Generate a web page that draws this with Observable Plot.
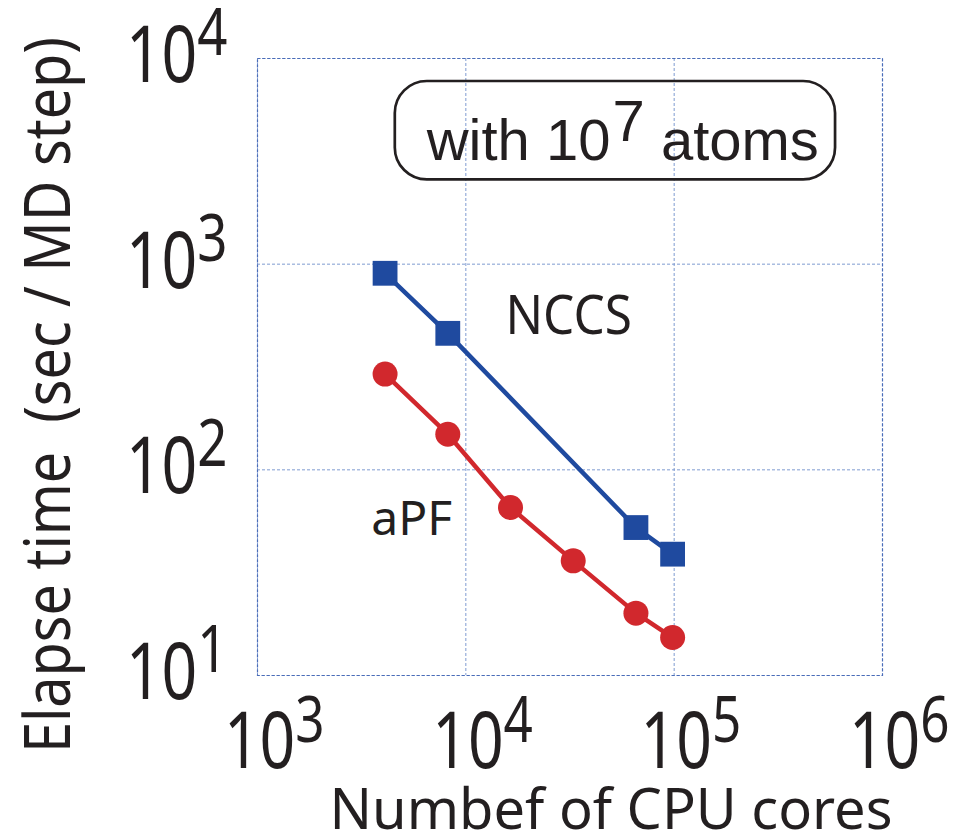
<!DOCTYPE html>
<html><head><meta charset="utf-8">
<script src="https://cdn.jsdelivr.net/npm/d3@7"></script>
<script src="https://cdn.jsdelivr.net/npm/@observablehq/plot@0.6"></script>
<style>body{margin:0;background:#fff}</style>
</head><body><div id="chart"></div>
<script>
// ---- data ----
const nccsCores = [4096, 8192, 65536, 98304];
const nccsTime  = [903, 461, 52.4, 38.9];
const apfCores  = [4096, 8192, 16384, 32768, 65536, 98304];
const apfTime   = [292, 149, 65.6, 36.1, 20.1, 15.3];
const seriesNames = ["NCCS", "aPF"];
const xTicks = [1e3, 1e4, 1e5, 1e6];
const yTicks = [1e1, 1e2, 1e3, 1e4];
const xLabel = "Numbef of CPU cores";
const yLabel = "Elapse time  (sec / MD step)";
const boxLabel = "with 10^7 atoms";

const blue = "#1f4a9f", red = "#d1282d", ink = "#231f20";
const nccs = nccsCores.map((c, i) => ({cores: c, time: nccsTime[i]}));
const apf = apfCores.map((c, i) => ({cores: c, time: apfTime[i]}));

const plot = Plot.plot({
  width: 955, height: 834,
  marginLeft: 257, marginRight: 73, marginTop: 58, marginBottom: 159,
  style: {fontFamily: "Noto Sans", background: "white", overflow: "visible", color: ink},
  x: {type: "log", domain: [1e3, 1e6]},
  y: {type: "log", domain: [1e1, 1e4]},
  marks: [
    Plot.gridX(xTicks, {stroke: "#7f9bd1", strokeOpacity: 1, strokeWidth: 1, strokeDasharray: "3,2"}),
    Plot.gridY(yTicks, {stroke: "#7f9bd1", strokeOpacity: 1, strokeWidth: 1, strokeDasharray: "3,2"}),
    Plot.frame({stroke: "#4a6cb8", strokeWidth: 1.2, strokeDasharray: "3,2"}),
    Plot.axisX(xTicks, {tickSize: 0, tickPadding: 37, fontSize: 78, fill: ink,
      tickFormat: d => String(Math.round(Math.log10(d))), label: null}),
    Plot.axisY(yTicks, {tickSize: 0, tickPadding: 30, fontSize: 78, fill: ink,
      tickFormat: d => String(Math.round(Math.log10(d))), label: null}),
    Plot.line(nccs, {x: "cores", y: "time", stroke: blue, strokeWidth: 4.5}),
    Plot.line(apf, {x: "cores", y: "time", stroke: red, strokeWidth: 4.5}),
    Plot.dot(nccs, {x: "cores", y: "time", symbol: "square", r: 14, fill: blue}),
    Plot.dot(apf, {x: "cores", y: "time", symbol: "circle", r: 12.5, fill: red}),
    Plot.text([seriesNames[0]], {x: 15500, y: 557, text: d => d, textAnchor: "start", lineAnchor: "middle",
      fontSize: 55, fill: ink}),
    Plot.text([seriesNames[1]], {x: 3520, y: 57.2, text: d => d, textAnchor: "start", lineAnchor: "middle",
      fontSize: 48, fill: ink}),
    Plot.rect([{x1: 4586, x2: 595200, y1: 7730, y2: 2569}], {x1: "x1", x2: "x2", y1: "y1", y2: "y2",
      rx: 32, fill: "none", stroke: ink, strokeWidth: 2.7}),
    Plot.text([boxLabel], {x: 6490, y: 3955, text: d => d, textAnchor: "start", lineAnchor: "middle",
      fontSize: 58, fontFamily: "Liberation Sans", fill: ink}),
    Plot.text([xLabel], {frameAnchor: "bottom-left", dx: 72, dy: 135.5, text: d => d, textAnchor: "start",
      lineAnchor: "middle", fontSize: 56, fill: ink}),
    Plot.text([yLabel], {frameAnchor: "left", dx: -208, dy: 28, rotate: -90, text: d => d,
      textAnchor: "middle", lineAnchor: "middle", fontSize: 64, fill: ink})
  ]
});
document.getElementById("chart").appendChild(plot);

const S = d3.select(plot);
const ns = "http://www.w3.org/2000/svg";
function addScale(el, sx) {
  const t = el.getAttribute("transform") || "";
  el.setAttribute("transform", t + ` scale(${sx},1)`);
}
function superscript(el, dy, size, dx) {
  const e = el.textContent;
  el.textContent = "";
  const a = document.createElementNS(ns, "tspan");
  a.textContent = "10";
  const b = document.createElementNS(ns, "tspan");
  b.textContent = e;
  b.setAttribute("dy", dy);
  b.setAttribute("font-size", size);
  if (dx) b.setAttribute("dx", dx);
  el.appendChild(a); el.appendChild(b);
}
S.selectAll('g[aria-label*="x-axis tick label"] text').each(function() {
  superscript(this, -26, 64);
  this.setAttribute("text-anchor", "start");
  this.setAttribute("x", -42);
  addScale(this, 0.8);
});
S.selectAll('g[aria-label*="y-axis tick label"] text').each(function() {
  superscript(this, -27, 66);
  this.setAttribute("dy", -1.5);
  addScale(this, 0.8);
});
S.selectAll("text").each(function() {
  const s = this.textContent;
  if (s === seriesNames[0]) addScale(this, 0.9);
  else if (s === yLabel) {
    this.style.whiteSpace = "pre";
    this.setAttribute("xml:space", "preserve");
    addScale(this, 0.87);
  } else if (s === boxLabel) {
    const [pre, rest] = s.split("^");
    const sup = rest.slice(0, 1), post = rest.slice(1);
    this.textContent = "";
    this.style.whiteSpace = "pre";
    const t1 = document.createElementNS(ns, "tspan"); t1.textContent = pre;
    const t2 = document.createElementNS(ns, "tspan"); t2.textContent = sup;
    t2.setAttribute("dy", -19); t2.setAttribute("dx", 2);
    const t3 = document.createElementNS(ns, "tspan"); t3.textContent = post;
    t3.setAttribute("dy", 19);
    this.appendChild(t1); this.appendChild(t2); this.appendChild(t3);
  }
});
</script>
</body></html>
